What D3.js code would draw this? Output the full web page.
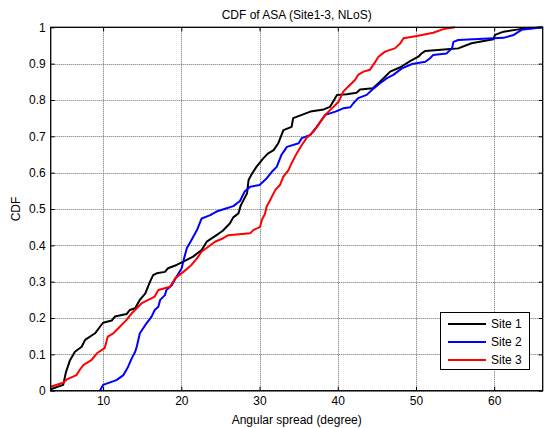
<!DOCTYPE html>
<html><head><meta charset="utf-8">
<script src="https://cdn.jsdelivr.net/npm/d3@7"></script>
<style>body{margin:0;background:#fff}svg{display:block;font-family:"Liberation Sans",Arial,sans-serif}</style>
</head><body><svg id="c" width="544" height="428"></svg>
<script>
const chartTitle = "CDF of ASA (Site1-3, NLoS)";
const xLabel = "Angular spread (degree)";
const yLabel = "CDF";
const seriesNames = ["Site 1", "Site 2", "Site 3"];
const seriesColors = ["#000000", "#0000ff", "#ff0000"];
const xTicks = [10, 20, 30, 40, 50, 60];
const yTicks = [0, 0.1, 0.2, 0.3, 0.4, 0.5, 0.6, 0.7, 0.8, 0.9, 1];
const xDomain = [3.3, 66.2];

const site1X = [3.3,4.9,5.26,5.77,6.4,7.26,7.7,8.97,9.6,10.0,11.1,11.5,13.0,13.4,14.1,14.7,15.4,16.0,16.4,16.85,17.9,18.3,19.4,20.26,21.5,22.6,23.25,24.5,25.3,26.2,26.65,27.3,27.6,28.4,28.6,29.0,29.6,30.5,31.1,31.8,32.4,33.05,34.1,34.3,36.5,38.2,39.0,39.9,41.15,42.4,42.85,44.5,45.4,46.7,48.0,49.25,50.3,50.7,51.2,54.4,55.4,57.1,59.9,60.1,61.2,63.3,66.2];
const site1Y = [0.004,0.016,0.052,0.084,0.107,0.121,0.14,0.158,0.176,0.187,0.193,0.204,0.211,0.222,0.227,0.25,0.268,0.30,0.318,0.323,0.327,0.337,0.346,0.355,0.369,0.387,0.41,0.428,0.44,0.46,0.477,0.488,0.51,0.543,0.58,0.596,0.616,0.64,0.653,0.662,0.681,0.717,0.726,0.75,0.768,0.774,0.781,0.814,0.816,0.82,0.829,0.832,0.85,0.878,0.89,0.907,0.919,0.928,0.935,0.94,0.942,0.956,0.967,0.979,0.988,0.995,1.0];

const site2X = [9.6,10.0,11.7,12.6,13.2,13.66,14.1,14.3,14.7,15.4,16.2,16.6,17.06,17.3,17.9,18.1,18.8,19.4,20.05,20.3,20.7,21.3,22.0,22.6,23.7,24.5,25.5,26.65,27.5,28.1,28.8,30.0,30.9,31.6,32.2,32.8,33.5,35.0,35.4,36.5,37.3,38.4,39.7,40.7,41.6,42.0,42.6,43.7,44.6,45.4,46.3,47.1,48.2,49.5,51.2,51.8,52.2,53.9,54.6,54.8,55.4,59.9,61.2,62.5,63.5,66.2];
const site2Y = [0,0.016,0.029,0.043,0.066,0.089,0.107,0.121,0.158,0.181,0.204,0.222,0.231,0.25,0.263,0.277,0.291,0.314,0.337,0.36,0.392,0.415,0.442,0.474,0.483,0.493,0.5,0.508,0.522,0.548,0.561,0.566,0.584,0.603,0.616,0.649,0.671,0.681,0.695,0.704,0.726,0.759,0.768,0.777,0.78,0.791,0.805,0.814,0.832,0.846,0.86,0.869,0.887,0.899,0.905,0.915,0.924,0.928,0.942,0.96,0.965,0.97,0.971,0.979,0.993,1.0];

const site3X = [3.3,4.9,5.35,6.6,7.0,7.5,8.5,9.2,10.2,10.6,11.3,11.95,13.0,13.66,14.9,16.6,17.06,18.56,19.2,20.26,21.3,22.0,22.6,23.45,24.3,25.2,26.0,28.8,29.2,30.07,30.3,30.7,30.9,31.3,32.0,32.6,33.05,33.7,34.1,34.75,35.4,36.0,36.9,37.5,38.4,39.45,40.1,40.7,41.35,42.2,42.6,43.3,44.1,44.8,45.2,46.05,47.3,48.0,48.4,50.1,52.2,53.5,55.0];
const site3Y = [0.011,0.022,0.031,0.043,0.057,0.071,0.084,0.103,0.117,0.149,0.158,0.172,0.195,0.213,0.24,0.259,0.277,0.286,0.309,0.327,0.346,0.364,0.383,0.396,0.41,0.418,0.428,0.433,0.442,0.451,0.47,0.487,0.506,0.522,0.552,0.566,0.589,0.607,0.626,0.653,0.676,0.695,0.713,0.731,0.759,0.781,0.795,0.823,0.837,0.855,0.869,0.878,0.883,0.905,0.919,0.933,0.942,0.956,0.97,0.976,0.985,0.995,1.0];

const seriesX = [site1X, site2X, site3X];
const seriesY = [site1Y, site2Y, site3Y];

const L = 50.7, R = 542.7, T = 27.3, B = 390.7;
const FS = 12;
const svg = d3.select("#c");
const x = d3.scaleLinear().domain(xDomain).range([L, R]);
const y = d3.scaleLinear().domain([0, 1]).range([B, T]);

// grid
const grid = svg.append("g").attr("stroke", "#6e6e6e").attr("stroke-width", 1).attr("stroke-dasharray", "1,1");
xTicks.forEach(t => grid.append("line").attr("x1", Math.round(x(t)) + 0.5).attr("x2", Math.round(x(t)) + 0.5).attr("y1", T).attr("y2", B));
yTicks.forEach(t => grid.append("line").attr("y1", Math.round(y(t)) + 0.5).attr("y2", Math.round(y(t)) + 0.5).attr("x1", L).attr("x2", R));

// axes
const fmt = d => d3.format("")(+d.toFixed(1));
const axB = d3.axisBottom(x).tickValues(xTicks).tickSizeInner(-4).tickSizeOuter(0).tickPadding(6).tickFormat(fmt);
const axT = d3.axisTop(x).tickValues(xTicks).tickSizeInner(-4).tickSizeOuter(0).tickFormat("");
const axLft = d3.axisLeft(y).tickValues(yTicks).tickSizeInner(-4).tickSizeOuter(0).tickPadding(5).tickFormat(fmt);
const axRt = d3.axisRight(y).tickValues(yTicks).tickSizeInner(-4).tickSizeOuter(0).tickFormat("");
function style(g) {
  g.select(".domain").remove();
  g.selectAll("line").attr("stroke", "#000");
  g.selectAll("text").attr("font-size", FS).attr("fill", "#000").attr("font-family", "Liberation Sans, Arial, sans-serif");
}
svg.append("g").attr("transform", `translate(0,${B})`).call(axB).call(style);
svg.append("g").attr("transform", `translate(0,${T})`).call(axT).call(style);
svg.append("g").attr("transform", `translate(${L},0)`).call(axLft).call(style);
svg.append("g").attr("transform", `translate(${R},0)`).call(axRt).call(style);

// lines
const line = d3.line().x(d => x(d[0])).y(d => y(d[1]));
const plot = svg.append("g");
seriesX.forEach((xs, i) => {
  const pts = xs.map((v, j) => [v, seriesY[i][j]]);
  plot.append("path").datum(pts).attr("d", line).attr("fill", "none")
    .attr("stroke", seriesColors[i]).attr("stroke-width", 2).attr("stroke-linejoin", "round");
});

// box
svg.append("rect").attr("x", L).attr("y", T).attr("width", R - L).attr("height", B - T)
  .attr("fill", "none").attr("stroke", "#000").attr("stroke-width", 1.3);

// titles
svg.append("text").attr("x", (L + R) / 2).attr("y", 18.5).attr("text-anchor", "middle")
  .attr("font-size", FS).text(chartTitle);
svg.append("text").attr("x", (L + R) / 2).attr("y", 423.5).attr("text-anchor", "middle")
  .attr("font-size", FS).text(xLabel);
svg.append("text").attr("transform", `translate(19.5,${(T + B) / 2}) rotate(-90)`).attr("text-anchor", "middle")
  .attr("font-size", FS).text(yLabel);

// legend
const lg = svg.append("g");
lg.append("rect").attr("x", 440.5).attr("y", 312.5).attr("width", 89).attr("height", 57)
  .attr("fill", "#fff").attr("stroke", "#000").attr("stroke-width", 1);
seriesNames.forEach((n, i) => {
  const yy = 324 + i * 18;
  lg.append("line").attr("x1", 448).attr("x2", 486).attr("y1", yy).attr("y2", yy)
    .attr("stroke", seriesColors[i]).attr("stroke-width", 2);
  lg.append("text").attr("x", 491).attr("y", yy + 4.3).attr("font-size", FS).text(n);
});
</script></body></html>
